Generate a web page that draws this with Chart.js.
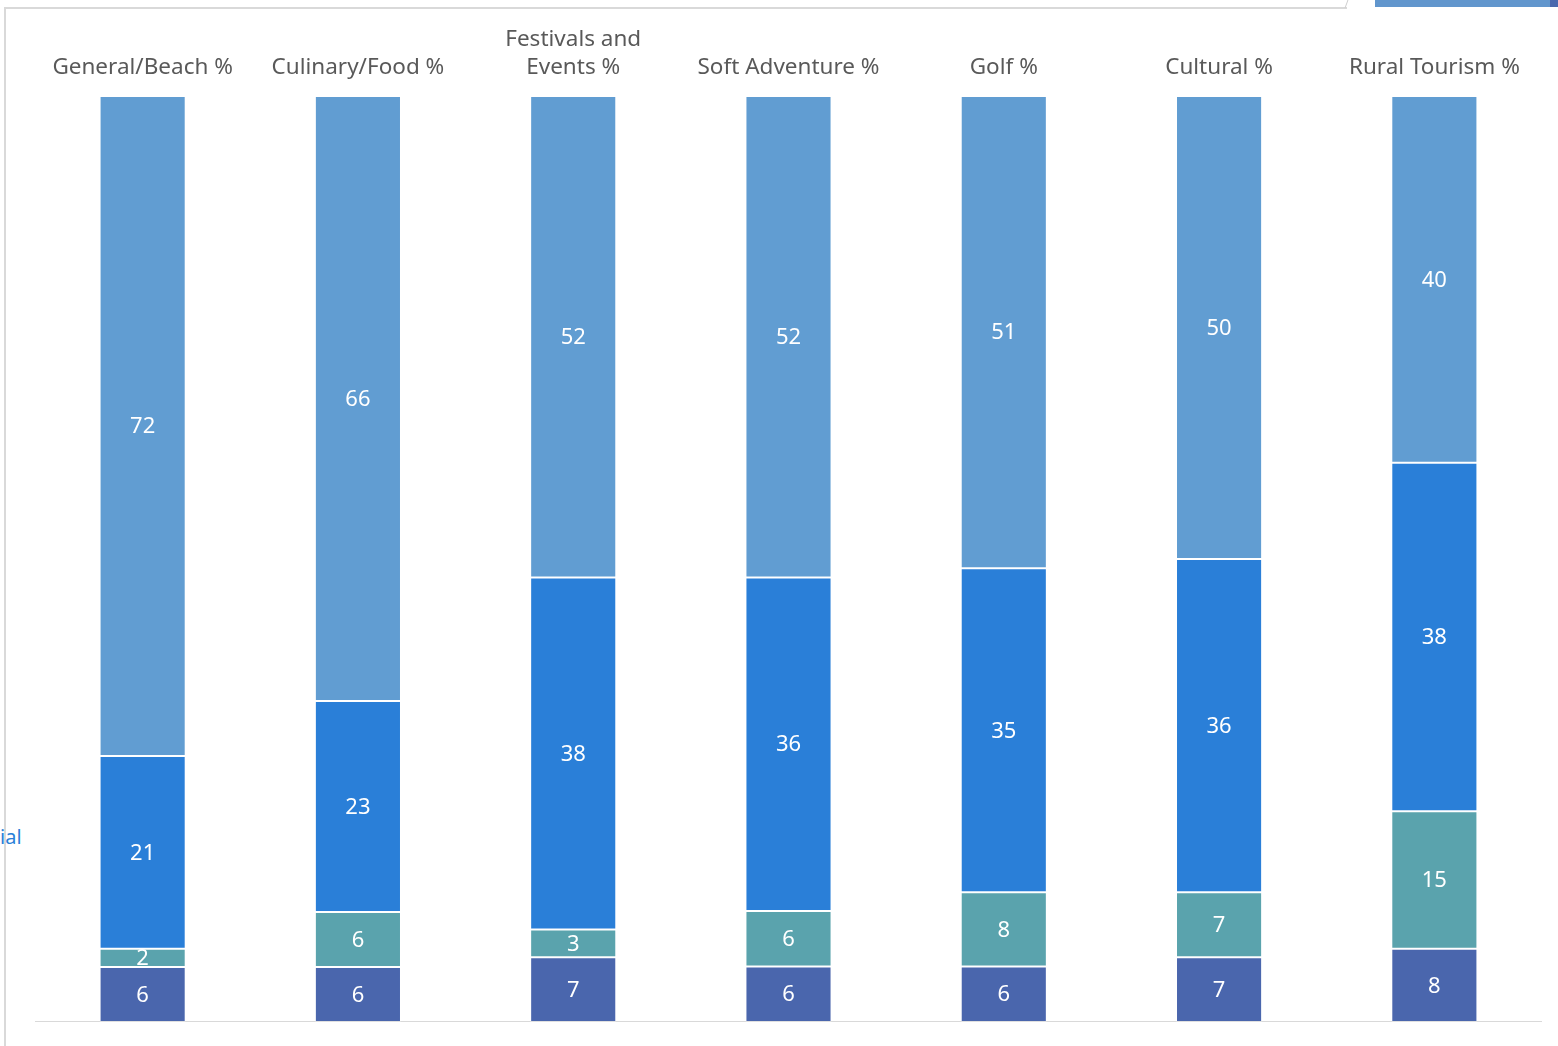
<!DOCTYPE html>
<html>
<head>
<meta charset="utf-8">
<script src="https://cdn.jsdelivr.net/npm/chart.js@4.4.1/dist/chart.umd.min.js"></script>
<style>
  html, body { margin: 0; padding: 0; background: #ffffff; }
  body { width: 1558px; height: 1046px; position: relative; overflow: hidden; font-family: "Noto Sans", sans-serif; }
  #frameTop { position: absolute; left: 4px; top: 7px; width: 1343px; height: 2px; background: #d9d9d9; }
  #frameLeft { position: absolute; left: 4px; top: 7px; width: 2px; height: 1039px; background: #d9d9d9; }
  #cornerLine { position: absolute; left: 1346px; top: 0px; width: 1px; height: 8px; background: #cfcfcf; transform: skewX(-20deg); }
  #cornerBlue { position: absolute; left: 1375px; top: 0px; width: 176px; height: 7px; background: #6196cd; }
  #cornerDark { position: absolute; left: 1550px; top: 0px; width: 8px; height: 7px; background: #4a68ad; }
  #stray { position: absolute; left: 0px; top: 824px; font-size: 20px; color: #2a7fd8; line-height: 26px; }
  #wrap { position: absolute; left: 35px; top: 0px; width: 1507px; height: 1022px; }
</style>
</head>
<body>
<div id="frameTop"></div>
<div id="frameLeft"></div>
<div id="cornerLine"></div>
<div id="cornerBlue"></div>
<div id="cornerDark"></div>
<div id="stray">ial</div>
<div id="wrap"><canvas id="c"></canvas></div>
<script>
const categories = [
  "General/Beach %",
  "Culinary/Food %",
  ["Festivals and", "Events %"],
  "Soft Adventure %",
  "Golf %",
  "Cultural %",
  "Rural Tourism %"
];
const seriesBottom = [6, 6, 7, 6, 6, 7, 8];
const seriesTeal   = [2, 6, 3, 6, 8, 7, 15];
const seriesBlue   = [21, 23, 38, 36, 35, 36, 38];
const seriesTop    = [72, 66, 52, 52, 51, 50, 40];
const rawSeries = [seriesBottom, seriesTeal, seriesBlue, seriesTop];
const colors = ["#4a66ad", "#5aa3ad", "#2a7fd8", "#619dd2"];

const totals = categories.map((_, i) => rawSeries.reduce((s, arr) => s + arr[i], 0));
const datasets = rawSeries.map((arr, k) => ({
  label: "s" + k,
  raw: arr,
  data: arr.map((v, i) => v / totals[i] * 100),
  backgroundColor: colors[k],
  borderColor: "rgba(255,255,255,0.2)",
  borderWidth: 1,
  borderSkipped: false,
  barPercentage: 0.4,
  categoryPercentage: 1.0
}));

const valueLabels = {
  id: "valueLabels",
  afterDatasetsDraw(chart) {
    const ctx = chart.ctx;
    ctx.save();
    ctx.fillStyle = "#ffffff";
    ctx.font = "22px 'Noto Sans'";
    ctx.textAlign = "center";
    ctx.textBaseline = "middle";
    chart.data.datasets.forEach((ds, di) => {
      const meta = chart.getDatasetMeta(di);
      meta.data.forEach((bar, i) => {
        const yMid = (bar.y + bar.base) / 2;
        ctx.fillText(String(ds.raw[i]), bar.x, yMid + 1);
      });
    });
    ctx.restore();
  }
};

new Chart(document.getElementById("c"), {
  type: "bar",
  data: { labels: categories, datasets },
  plugins: [valueLabels],
  options: {
    responsive: true,
    maintainAspectRatio: false,
    animation: false,
    layout: { padding: 0 },
    plugins: { legend: { display: false }, tooltip: { enabled: false } },
    scales: {
      x: {
        position: "top",
        stacked: true,
        grid: { display: false },
        border: { display: false },
        ticks: {
          color: "#595959",
          font: { family: "Noto Sans", size: 22.5, lineHeight: "28px" },
          padding: 6,
          maxRotation: 0,
          autoSkip: false
        },
        afterFit(scale) { scale.height = 96; }
      },
      x2: {
        position: "bottom",
        type: "category",
        labels: categories,
        grid: { display: false, drawTicks: false },
        ticks: { display: false },
        border: { display: true, color: "#d9d9d9", width: 2 }
      },
      y: {
        stacked: true,
        display: false,
        min: 0,
        max: 100
      }
    }
  }
});
</script>
</body>
</html>
